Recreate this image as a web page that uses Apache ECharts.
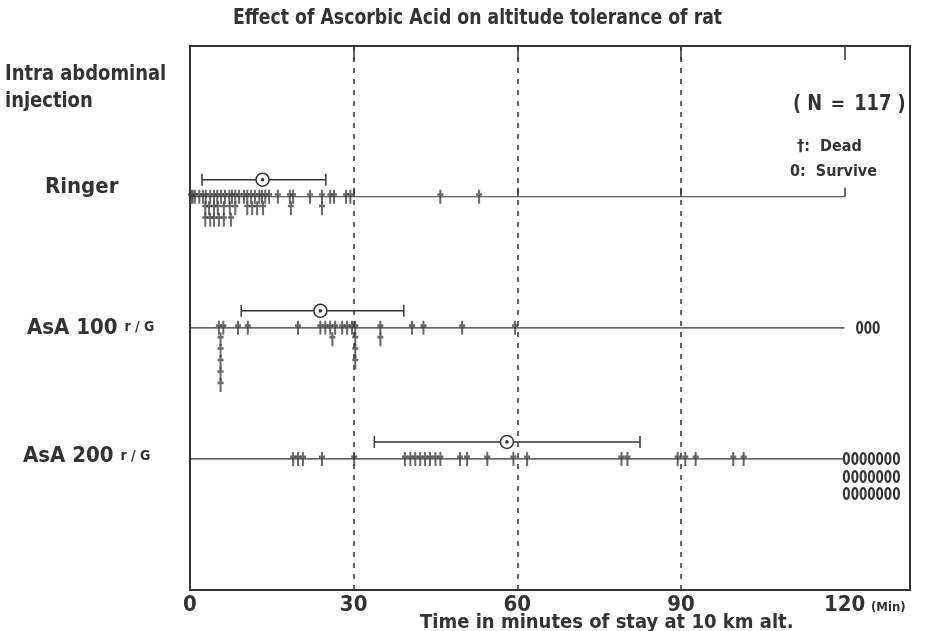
<!DOCTYPE html>
<html><head><meta charset="utf-8">
<script src="https://cdn.jsdelivr.net/npm/echarts@6/dist/echarts.min.js"></script>
<style>html,body{margin:0;padding:0;background:#fff}#c{width:926px;height:631px}</style>
</head><body><div id="c"></div>
<script>
// ---------- data ----------
const groups = ['Ringer', 'AsA 100', 'AsA 200'];
const groupUnits = ['', 'r / G', 'r / G'];
const xTicks = [0, 30, 60, 90, 120];
const guideLines = [30, 60, 90];
const N_TOTAL = 117;
// dead animals: [minutes, stack level below the baseline]
const ringerDead = [
  [0.2,0],[0.5,0],[0.9,0],[1.7,0],[2.4,0],[2.9,0],[3.7,0],[4.4,0],[5.0,0],[5.7,0],[6.4,0],[7.2,0],
  [7.7,0],[8.3,0],[9.0,0],[9.9,0],[10.5,0],[11.2,0],[11.9,0],[12.7,0],[13.2,0],[13.8,0],[14.5,0],
  [16.1,0],[18.3,0],[18.9,0],[22.0,0],[24.2,0],[25.7,0],[26.4,0],[28.6,0],[29.4,0],[45.9,0],[53.0,0],
  [2.8,1],[3.5,1],[4.4,1],[5.1,1],[6.2,1],[7.3,1],[8.3,1],[10.5,1],[11.4,1],[12.3,1],[13.4,1],[18.5,1],[24.2,1],
  [2.8,2],[3.7,2],[4.4,2],[5.3,2],[6.2,2],[7.5,2]
];
const asa100Dead = [
  [5.3,0],[6.1,0],[8.8,0],[10.6,0],[19.8,0],[23.9,0],[24.8,0],[25.7,0],[26.6,0],[27.9,0],[28.8,0],
  [29.7,0],[30.3,0],[34.9,0],[40.7,0],[42.8,0],[49.9,0],[59.6,0],
  [5.6,1],[5.6,2],[5.6,3],[5.6,4],[5.6,5],
  [26.1,1],[30.3,1],[30.3,2],[30.3,3],[34.9,1]
];
const asa200Dead = [
  [18.9,0],[19.8,0],[20.7,0],[24.2,0],[30.1,0],[39.4,0],[40.4,0],[41.3,0],[42.2,0],[43.1,0],[44.0,0],
  [45.0,0],[45.9,0],[49.5,0],[50.8,0],[54.5,0],[59.3,0],[61.8,0],[79.1,0],[80.2,0],[89.4,0],[90.8,0],
  [92.7,0],[99.6,0],[101.5,0]
];
const meanLow = [2.2, 9.4, 33.8];
const meanValue = [13.3, 23.9, 58.1];
const meanHigh = [24.9, 39.2, 82.5];
const survivors = [0, 3, 21];

// ---------- layout ----------
const FONT = "'DejaVu Sans Condensed','Liberation Sans Narrow',sans-serif";
const INK = '#333';
const STEP = 0.0874;          // stack step (row units)
const LINE_END = 120;
const labelX = [45, 27, 23];
const labelDy = [-9, 0, -3];
const survLeft = [0, 122, 119.6];
const SURV_PER_ROW = 7;

const deadSets = [ringerDead, asa100Dead, asa200Dead];
const deadData = [];
deadSets.forEach((set, g) => set.forEach(([m, lv]) => deadData.push([m, g + lv * STEP])));

const dagger = 'path://M3,0H6V4H9V7H6V16H3V7H0V4H3Z';

function txt(x, y, text, size, sx) {
  return {type: 'text', x: x, y: y, scaleX: sx || 1,
    style: {text: text, fontFamily: FONT, fontSize: size, fontWeight: 'bold', fill: INK, verticalAlign: 'middle'}};
}

function renderMean(params, api) {
  const g = api.value(3);
  const a = api.coord([api.value(0), g]), m = api.coord([api.value(1), g]), b = api.coord([api.value(2), g]);
  const y = a[1] - 17;
  const st = {stroke: INK, lineWidth: 1.5};
  return {type: 'group', children: [
    {type: 'line', shape: {x1: a[0], y1: y, x2: b[0], y2: y}, style: st},
    {type: 'line', shape: {x1: a[0], y1: y - 6, x2: a[0], y2: y + 6}, style: st},
    {type: 'line', shape: {x1: b[0], y1: y - 6, x2: b[0], y2: y + 6}, style: st},
    {type: 'circle', shape: {cx: m[0], cy: y, r: 6.5}, style: {fill: '#fff', stroke: INK, lineWidth: 1.5}},
    {type: 'circle', shape: {cx: m[0], cy: y, r: 1.8}, style: {fill: INK}}
  ]};
}
function renderLabel(params, api) {
  const i = api.value(0);
  const y = api.coord([0, i])[1] + labelDy[i];
  const t = groupUnits[i] ? '{a|' + groups[i] + ' }{b|' + groupUnits[i] + '}' : '{a|' + groups[i] + '}';
  return {type: 'text', x: labelX[i], y: y, style: {
    text: t, verticalAlign: 'middle', fill: INK,
    rich: {a: {fontFamily: FONT, fontSize: 22, fontWeight: 'bold', fill: INK},
           b: {fontFamily: FONT, fontSize: 14, fontWeight: 'bold', fill: INK}}
  }};
}
function renderSurv(params, api) {
  const g = api.value(0), n = api.value(1);
  if (!n) return null;
  const p = api.coord([survLeft[g], g]);
  const children = [];
  let left = n, r = 0;
  while (left > 0) {
    const c = Math.min(SURV_PER_ROW, left);
    children.push({type: 'text', x: p[0], y: p[1] + 2 + r * 17.5, scaleX: 0.78, style: {
      text: '0'.repeat(c), verticalAlign: 'middle', fill: INK,
      fontFamily: FONT, fontSize: 17, fontWeight: 'bold'}});
    left -= c; r++;
  }
  return {type: 'group', children};
}

const chart = echarts.init(document.getElementById('c'));
chart.setOption({
  backgroundColor: '#fff',
  animation: false,
  grid: {left: 190, right: 16, top: 46, bottom: 41, show: true, borderColor: INK, borderWidth: 2},
  xAxis: [
    {type: 'value', min: 0, max: 132, interval: 30, position: 'bottom',
     axisLine: {show: false}, splitLine: {show: false},
     axisTick: {inside: true, length: 9, lineStyle: {color: INK, width: 1.5}},
     axisLabel: {formatter: v => xTicks.includes(v) ? String(v) : '', fontFamily: FONT, fontSize: 22,
       fontWeight: 'bold', color: INK, margin: 4}},
    {type: 'value', min: 0, max: 132, interval: 30, position: 'top',
     axisLine: {show: false}, splitLine: {show: false}, axisLabel: {show: false},
     axisTick: {inside: true, length: 14, lineStyle: {color: INK, width: 1.5}}}
  ],
  yAxis: {type: 'value', inverse: true, min: -1.15, max: 3.0, show: false},
  graphic: [
    txt(233, 19, 'Effect of Ascorbic Acid on altitude tolerance of rat', 21, 0.915),
    txt(5, 75, 'Intra abdominal', 21, 0.95),
    txt(5, 102, 'injection', 21, 0.95),
    txt(793, 105, '( N \uFF1D ' + N_TOTAL + ' )', 21, 0.94),
    txt(797, 147, '\u2020:  Dead', 16, 1),
    txt(790, 172, '0:  Survive', 16, 1),
    txt(871, 608, '(Min)', 13, 1),
    txt(420, 623, 'Time in minutes of stay at 10 km alt.', 20, 1)
  ],
  series: [
    {type: 'line', data: [[0, 0], [LINE_END, 0]], symbol: 'none', silent: true,
     lineStyle: {color: INK, width: 1.2},
     markLine: {silent: true, symbol: ['none', 'none'], label: {show: false},
       lineStyle: {type: [5, 6], color: INK, width: 1.5}, data: guideLines.map(v => ({xAxis: v}))}},
    {type: 'line', data: [[0, 1], [LINE_END, 1]], symbol: 'none', silent: true, lineStyle: {color: INK, width: 1.2}},
    {type: 'line', data: [[0, 2], [LINE_END, 2]], symbol: 'none', silent: true, lineStyle: {color: INK, width: 1.2}},
    {type: 'custom', renderItem: renderMean, silent: true,
     data: groups.map((g, i) => [meanLow[i], meanValue[i], meanHigh[i], i])},
    {type: 'scatter', data: deadData, symbol: dagger, symbolSize: [6, 14], silent: true, clip: false,
     itemStyle: {color: '#444'}},
    {type: 'custom', renderItem: renderLabel, silent: true, data: groups.map((g, i) => [i])},
    {type: 'custom', renderItem: renderSurv, silent: true, data: survivors.map((n, i) => [i, n])}
  ]
});
</script></body></html>
